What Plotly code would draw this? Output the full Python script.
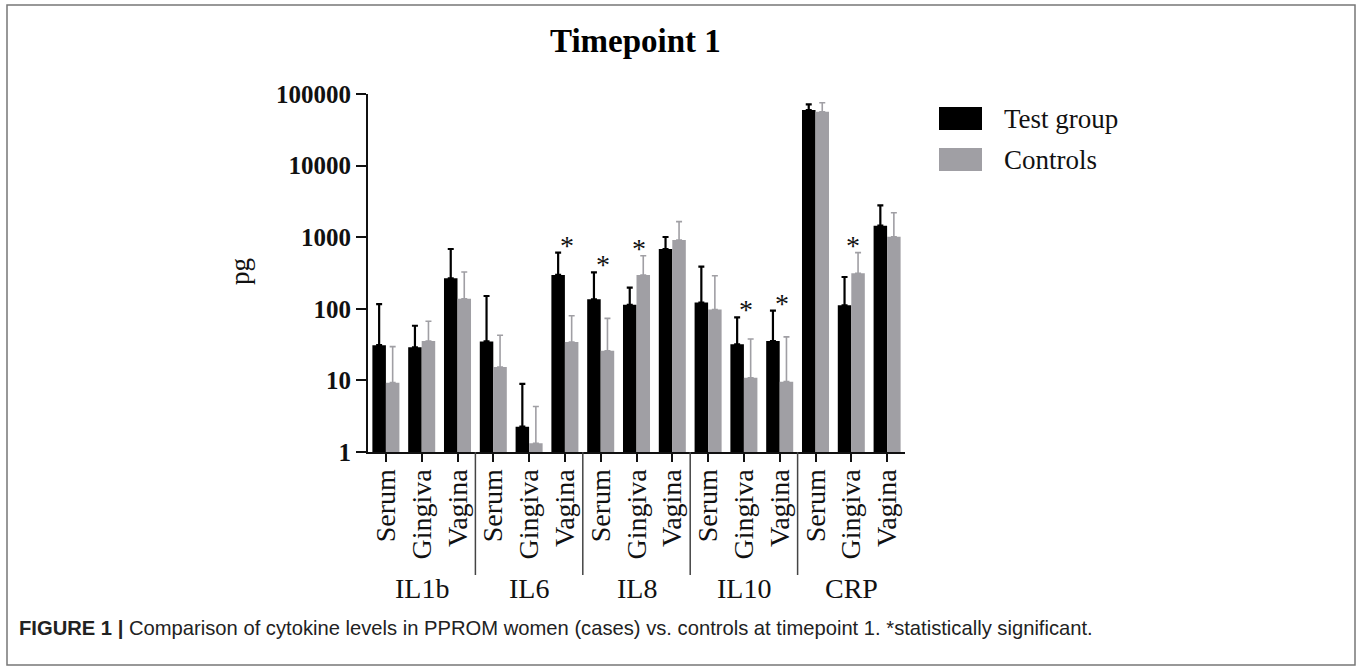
import plotly.graph_objects as go
import math

# ---------------- data ----------------
groups = ["IL1b", "IL6", "IL8", "IL10", "CRP"]
samples = ["Serum", "Gingiva", "Vagina"]
series_names = ["Test group", "Controls"]

test_mean = [31, 29, 267, 35, 2.26, 297, 136, 114, 684, 122, 32, 35.5, 59800, 112, 1448]
test_sd = [85, 29, 417, 116, 6.7, 311, 187, 83, 323, 265, 44, 58.5, 12000, 166, 1339]
ctrl_mean = [9.3, 35.5, 138, 15.4, 1.32, 34.4, 26, 297, 914, 98, 10.9, 9.6, 56600, 313, 1016]
ctrl_sd = [20.3, 31.5, 188, 27.3, 3.0, 45.6, 47.6, 255, 734, 192, 27, 31, 19000, 295, 1184]
significant = [0, 0, 0, 0, 0, 1, 1, 1, 0, 0, 1, 1, 0, 1, 0]

y_ticks = [1, 10, 100, 1000, 10000, 100000]

title_text = "Timepoint 1"
y_title = "pg"
caption = ("<b>FIGURE 1 |</b> Comparison of cytokine levels in PPROM women (cases) vs. "
           "controls at timepoint 1. *statistically significant.")

# ---------------- styles ----------------
BLACK = "#000000"
GRAY = "#a09fa4"
SERIF = "Liberation Serif, Times New Roman, serif"
W, H = 1360, 670
# plot area in screen pixels
SX0, SX1, SY0, SY1 = 368, 905, 94, 452
L, T = SX0, SY0
R, B = W - SX1, H - SY1
PW, PH = SX1 - SX0, SY1 - SY0


def px_x(p):
    return (p - SX0) / PW


def px_y(p):
    return (SY1 - p) / PH


n_s = len(samples)
x_idx = list(range(len(groups) * n_s))
tick_text = [samples[i % n_s] for i in x_idx]

fig = go.Figure()
for name, mean, sd, col, thick in [
    (series_names[0], test_mean, test_sd, BLACK, 2.2),
    (series_names[1], ctrl_mean, ctrl_sd, GRAY, 1.6),
]:
    fig.add_trace(go.Bar(
        x=x_idx, y=mean, name=name, marker=dict(color=col, line=dict(width=0)),
        error_y=dict(type="data", symmetric=False, array=sd,
                     arrayminus=[0] * len(sd), color=col, thickness=thick, width=3),
        showlegend=False,
    ))

annotations = []
shapes = []

# significance asterisks
for i, s in enumerate(significant):
    if s:
        top = max(test_mean[i] + test_sd[i], ctrl_mean[i] + ctrl_sd[i])
        annotations.append(dict(x=i + 0.06, y=math.log10(top), xref="x", yref="y", text="*",
                                showarrow=False, xanchor="center", yanchor="bottom", yshift=-10,
                                font=dict(family=SERIF, size=28, color="#111")))

# group labels and dividers
for g, name in enumerate(groups):
    center = g * n_s + (n_s - 1) / 2
    annotations.append(dict(x=center, y=px_y(588), xref="x", yref="paper", text=name,
                            showarrow=False, xanchor="center", yanchor="middle",
                            font=dict(family=SERIF, size=28, color="#111")))
    if g > 0:
        xd = g * n_s - 0.5
        shapes.append(dict(type="line", xref="x", yref="paper", x0=xd, x1=xd,
                           y0=0, y1=px_y(575), line=dict(color="#444", width=1.5)))

# y title
annotations.append(dict(x=px_x(240), y=px_y(272), xref="paper", yref="paper", text=y_title,
                        textangle=-90, showarrow=False, xanchor="center", yanchor="middle",
                        font=dict(family=SERIF, size=27, color="#111")))
# title
annotations.append(dict(x=px_x(635), y=px_y(41), xref="paper", yref="paper", text=f"<b>{title_text}</b>",
                        showarrow=False, xanchor="center", yanchor="middle",
                        font=dict(family=SERIF, size=33, color="#000")))
# caption
annotations.append(dict(x=px_x(17), y=px_y(628), xref="paper", yref="paper", text=caption,
                        showarrow=False, xanchor="left", yanchor="middle",
                        font=dict(family="Liberation Sans Narrow, Arial Narrow, Liberation Sans, Arial, sans-serif",
                                  size=20.2, color="#222")))

# custom legend
for k, (name, col) in enumerate(zip(series_names, [BLACK, GRAY])):
    ytop = 107 + k * 41
    shapes.append(dict(type="rect", xref="paper", yref="paper",
                       x0=px_x(939), x1=px_x(982), y0=px_y(ytop + 23), y1=px_y(ytop),
                       fillcolor=col, line=dict(width=0)))
    annotations.append(dict(x=px_x(1002), y=px_y(ytop + 12), xref="paper", yref="paper", text=name,
                            showarrow=False, xanchor="left", yanchor="middle",
                            font=dict(family=SERIF, size=27, color="#111")))

# outer frame
shapes.append(dict(type="rect", xref="paper", yref="paper",
                   x0=px_x(7), x1=px_x(1355), y0=px_y(665), y1=px_y(5),
                   line=dict(color="#777", width=1.5), fillcolor="rgba(0,0,0,0)"))

fig.update_layout(
    width=W, height=H,
    margin=dict(l=L, r=R, t=T, b=B),
    paper_bgcolor="white", plot_bgcolor="white",
    barmode="group", bargap=0.245, bargroupgap=0,
    annotations=annotations, shapes=shapes,
    showlegend=False,
)
fig.update_xaxes(
    range=[-0.5, len(x_idx) - 0.5], tickmode="array", tickvals=x_idx, ticktext=tick_text,
    tickangle=-90, ticks="outside", ticklen=8, tickwidth=2, tickcolor="#111",
    ticklabelstandoff=-4,
    showline=True, linewidth=2, linecolor="#111", showgrid=False, zeroline=False,
    tickfont=dict(family=SERIF, size=28, color="#111"),
)
fig.update_yaxes(
    type="log", range=[0, 5], tickmode="array", tickvals=y_ticks,
    ticktext=[str(v) for v in y_ticks],
    ticks="outside", ticklen=10, tickwidth=2, tickcolor="#111",
    showline=True, linewidth=2, linecolor="#111", showgrid=False, zeroline=False,
    tickfont=dict(family=SERIF, size=25, color="#111", weight="bold"),
)

fig.write_html("out.html", config={"displayModeBar": False},
               post_script="document.body.style.margin='0';document.body.style.overflow='hidden';")
